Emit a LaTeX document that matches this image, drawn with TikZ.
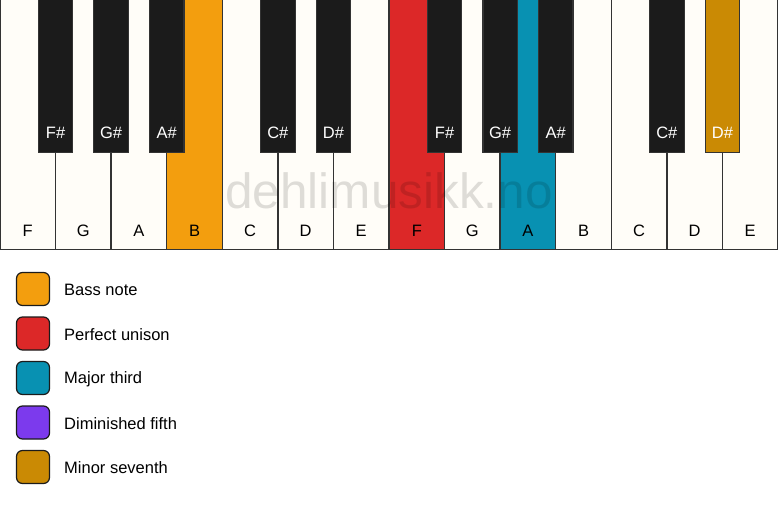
\documentclass[tikz,border=0pt]{standalone}
\usepackage{fontspec}
\setmainfont{Liberation Sans}
\definecolor{wkey}{HTML}{FFFDF8}
\definecolor{bkey}{HTML}{1B1B1B}
\definecolor{edge}{HTML}{333333}
\definecolor{cbass}{HTML}{F39E0E}
\definecolor{cuni}{HTML}{DC2828}
\definecolor{cthird}{HTML}{0891B2}
\definecolor{cfifth}{HTML}{7C3AED}
\definecolor{cseventh}{HTML}{CA8A04}
\tikzset{
  whitekey/.style={draw=edge, line width=1.4pt, fill=wkey, anchor=north west, minimum width=55.57pt, minimum height=252pt, inner sep=0pt, outer sep=0pt},
  blackkey/.style={draw=edge, line width=1.2pt, fill=bkey, anchor=north, minimum width=34.5pt, minimum height=155pt, inner sep=0pt, outer sep=0pt},
  wlabel/.style={font=\fontsize{16.5}{19}\selectfont, text=black, inner sep=0pt},
  blabel/.style={font=\fontsize{16.5}{19}\selectfont, text=white, inner sep=0pt},
  legbox/.style={draw=bkey, line width=1.2pt, rounded corners=6pt, minimum width=33pt, minimum height=33pt, inner sep=0pt},
  legtext/.style={font=\fontsize{16.5}{19}\selectfont, anchor=west, inner sep=0pt},
}
\begin{document}
\begin{tikzpicture}[x=1pt, y=-1pt]
\useasboundingbox[fill=white] (0,0) rectangle (778,506);
% white keys
\def\W{55.5714}
\foreach \i/\n/\c in {0/F/wkey,1/G/wkey,2/A/wkey,3/B/cbass,4/C/wkey,5/D/wkey,6/E/wkey,7/F/cuni,8/G/wkey,9/A/cthird,10/B/wkey,11/C/wkey,12/D/wkey,13/E/wkey}{
  \node[whitekey, fill=\c] (w\i) at ({\i*\W}, -2.5) {};
  \node[wlabel] (wl\i) at ({(\i+0.5)*\W}, 231) {\n};
}
% watermark
\node[font=\fontsize{49.5}{52}\selectfont, text=black, opacity=0.13, anchor=base, inner sep=0pt] (wm) at (389, 208) {dehlimusikk.no};
% black keys
\foreach \i/\n/\c in {1/F\#/bkey,2/G\#/bkey,3/A\#/bkey,5/C\#/bkey,6/D\#/bkey,8/F\#/bkey,9/G\#/bkey,10/A\#/bkey,12/C\#/bkey,13/D\#/cseventh}{
  \node[blackkey, fill=\c] (b\i) at ({\i*\W}, -2.5) {};
  \node[blabel] (bl\i) at ({\i*\W}, 133) {\n};
}
% legend
\foreach \k/\c/\t in {0/cbass/Bass note,1/cuni/Perfect unison,2/cthird/Major third,3/cfifth/Diminished fifth,4/cseventh/Minor seventh}{
  \node[legbox, fill=\c] (lb\k) at (33, {289+\k*44.5}) {};
  \node[legtext] (lt\k) at (64, {290+\k*44.5}) {\t};
}
\end{tikzpicture}
\end{document}
